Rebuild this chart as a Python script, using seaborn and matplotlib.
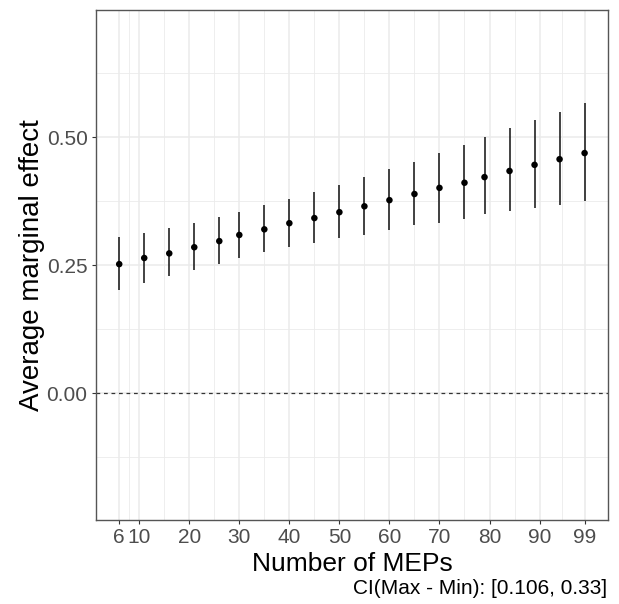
import seaborn as sns
import matplotlib.pyplot as plt
import pandas as pd

# data
n_meps = [6, 11, 16, 21, 26, 30, 35, 40, 45, 50, 55, 60, 65, 70, 75, 79, 84, 89, 94, 99]
ame = [0.252, 0.264, 0.273, 0.285, 0.297, 0.309, 0.320, 0.332, 0.342, 0.3535,
       0.365, 0.377, 0.389, 0.401, 0.411, 0.422, 0.434, 0.446, 0.457, 0.469]
ci_low = [0.202, 0.215, 0.229, 0.241, 0.2525, 0.264, 0.276, 0.286, 0.294, 0.304,
          0.309, 0.3195, 0.3275, 0.333, 0.341, 0.349, 0.355, 0.361, 0.3685, 0.3744]
ci_high = [0.305, 0.313, 0.323, 0.333, 0.344, 0.354, 0.3685, 0.3795, 0.393, 0.407,
           0.4225, 0.438, 0.452, 0.470, 0.485, 0.501, 0.518, 0.534, 0.549, 0.567]
x_ticks = [6, 10, 20, 30, 40, 50, 60, 70, 80, 90, 99]
y_ticks = [0.0, 0.25, 0.5]
caption = "CI(Max - Min): [0.106, 0.33]"

df = pd.DataFrame({"n": n_meps, "ame": ame, "lo": ci_low, "hi": ci_high})

sns.set_style("white")
plt.rcParams["font.family"] = ["Liberation Sans", "DejaVu Sans"]

fig = plt.figure(figsize=(6.19, 6.04), dpi=100)
ax = fig.add_axes([0.155, 0.139, 0.827, 0.844])

# grid like theme_bw
for v in [8, 15, 25, 35, 45, 55, 65, 75, 85, 94.5]:
    ax.axvline(v, color="#EBEBEB", lw=0.6, zorder=0)
for v in x_ticks:
    ax.axvline(v, color="#EBEBEB", lw=1.1, zorder=0)
for v in [-0.125, 0.125, 0.375, 0.625]:
    ax.axhline(v, color="#EBEBEB", lw=0.6, zorder=0)
for v in y_ticks:
    ax.axhline(v, color="#EBEBEB", lw=1.1, zorder=0)

ax.axhline(0, color="#333333", lw=0.9, ls=(0, (3, 3)), zorder=1)
ax.vlines(df["n"], df["lo"], df["hi"], color="#222222", lw=1.2, zorder=2)
sns.scatterplot(data=df, x="n", y="ame", color="black", s=22, edgecolor="none", ax=ax, zorder=3)

ax.set_xlim(1.35, 103.65)
ax.set_ylim(-0.248, 0.748)
ax.set_xticks(x_ticks)
ax.set_xticklabels([str(t) for t in x_ticks])
ax.set_yticks(y_ticks)
ax.set_yticklabels(["0.00", "0.25", "0.50"])
ax.tick_params(axis="both", length=3, width=0.8, color="#333333",
               labelsize=15, labelcolor="#4D4D4D", direction="out", pad=3)
ax.tick_params(axis="x", bottom=True)
ax.tick_params(axis="y", left=True)

for s in ax.spines.values():
    s.set_color("#555555")
    s.set_linewidth(1.0)

ax.set_xlabel("Number of MEPs", fontsize=19, color="black", labelpad=3)
ax.set_ylabel("Average marginal effect", fontsize=20, color="black", labelpad=1)
fig.text(0.981, 10 / 604, caption, ha="right", va="baseline", fontsize=15, color="black")

fig.savefig("out.png", dpi=100)
